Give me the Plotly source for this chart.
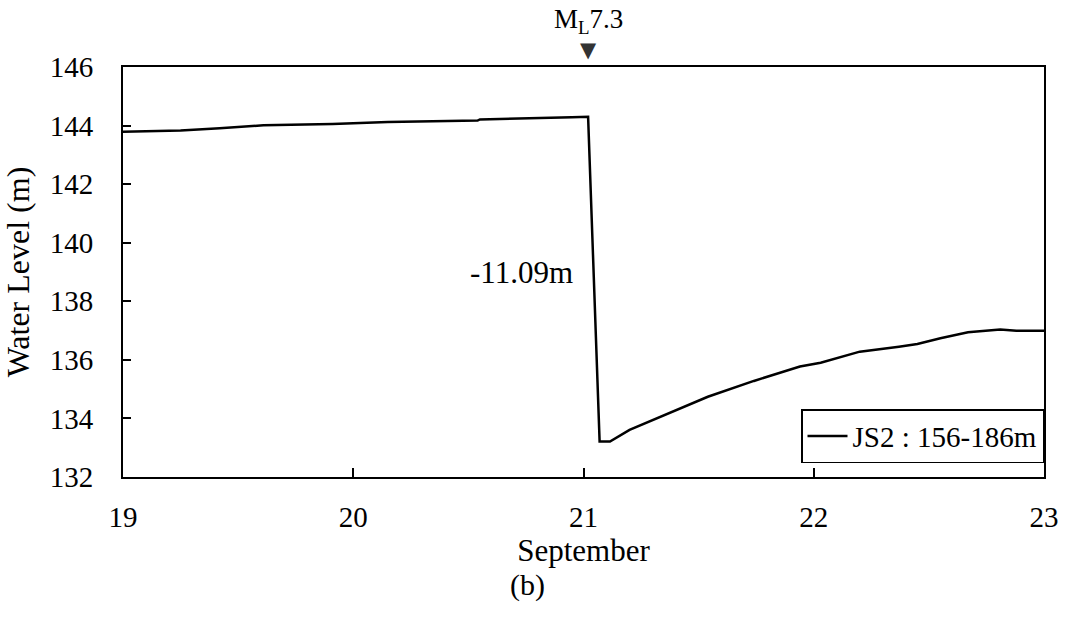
import plotly.graph_objects as go

# Water level record at well JS2 (screened 156-186 m), 19-23 September
days = [19.00, 19.25, 19.42, 19.61, 19.91, 20.15, 20.54, 20.55, 20.95, 21.02,
        21.07, 21.115, 21.20, 21.36, 21.54, 21.74, 21.94, 22.03, 22.20, 22.37,
        22.45, 22.55, 22.67, 22.81, 22.88, 23.00]
level_m = [143.79, 143.83, 143.91, 144.01, 144.05, 144.12, 144.17, 144.21, 144.28, 144.30,
           133.21, 133.21, 133.61, 134.14, 134.74, 135.28, 135.77, 135.90, 136.28, 136.45,
           136.54, 136.74, 136.94, 137.04, 136.99, 136.99]
series_name = "JS2 : 156-186m"

# Earthquake occurrence
quake_day = 21.02
quake_label = "M<sub>L</sub>7.3"

x_ticks = [19, 20, 21, 22, 23]
y_ticks = [132, 134, 136, 138, 140, 142, 144, 146]

# Coseismic drop computed from the record itself
i_pre = level_m.index(max(level_m))
drop = level_m[i_pre + 1] - level_m[i_pre]
drop_text = f"{drop:.2f}m"

FONT = "Liberation Serif"

fig = go.Figure()
fig.add_trace(go.Scatter(
    x=days, y=level_m, mode="lines", name=series_name,
    line=dict(color="black", width=2.5),
))

# Triangle and magnitude label marking the earthquake time above the frame
fig.add_annotation(x=quake_day, y=1.042, xref="x", yref="paper", text="▼",
                   showarrow=False, font=dict(family="DejaVu Sans", size=21, color="#333333"),
                   xanchor="center", yanchor="middle")
fig.add_annotation(x=quake_day, y=1.112, xref="x", yref="paper", text=quake_label,
                   showarrow=False, font=dict(family=FONT, size=27, color="black"),
                   xanchor="center", yanchor="middle")
fig.add_annotation(x=20.963, y=138.97, xref="x", yref="y", text=drop_text,
                   showarrow=False, font=dict(family=FONT, size=31, color="black"),
                   xanchor="right", yanchor="middle")
fig.add_annotation(x=0.4387, y=-0.263, xref="paper", yref="paper", text="(b)",
                   showarrow=False, font=dict(family=FONT, size=30, color="black"),
                   xanchor="center", yanchor="middle")

fig.update_xaxes(
    range=[19, 23], tickvals=x_ticks, ticktext=[str(t) for t in x_ticks],
    ticks="inside", ticklen=9, tickwidth=2, tickcolor="black",
    showline=True, linecolor="black", linewidth=2, mirror=True,
    showgrid=False, zeroline=False, automargin=False,
    tickfont=dict(family=FONT, size=29, color="black"),
    ticklabelstandoff=13,
    title=dict(text="September", font=dict(family=FONT, size=31, color="black"), standoff=8),
)
fig.update_yaxes(
    range=[132, 146], tickvals=y_ticks,
    ticks="inside", ticklen=8, tickwidth=2, tickcolor="black",
    showline=True, linecolor="black", linewidth=2, mirror=True,
    showgrid=False, zeroline=False, automargin=False,
    tickfont=dict(family=FONT, size=29, color="black"),
    ticklabelstandoff=22,
    title=dict(text="Water Level (m)", font=dict(family=FONT, size=32, color="black"), standoff=18),
)

fig.update_layout(
    width=1065, height=620,
    margin=dict(l=123, r=21, t=67, b=143, autoexpand=False),
    paper_bgcolor="white", plot_bgcolor="white",
    showlegend=True,
    legend=dict(
        x=1.0, xanchor="right", y=0.034, yanchor="bottom",
        bgcolor="white", bordercolor="black", borderwidth=1.5,
        font=dict(family=FONT, size=29, color="black"),
        itemwidth=40, tracegroupgap=0,
    ),
)

fig.write_html("out.html")
